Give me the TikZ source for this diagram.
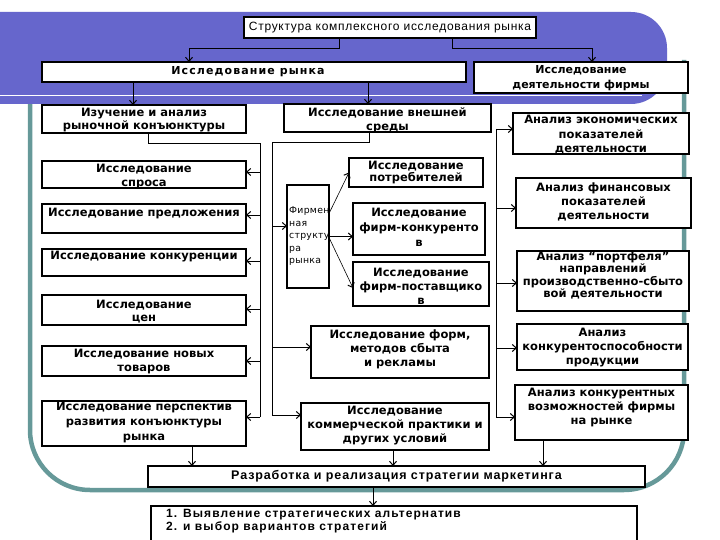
\documentclass[tikz,border=0pt]{standalone}
\usepackage{fontspec}
\usetikzlibrary{arrows.meta}
\newfontfamily\fdv{DejaVu Sans}
\newfontfamily\fdvwide{DejaVu Sans}[LetterSpace=10]
\newfontfamily\fdvsmall{DejaVu Sans}[LetterSpace=3]
\newfontfamily\flibtop{Liberation Sans}[LetterSpace=6]
\newfontfamily\flibraz{Liberation Sans}[LetterSpace=7]
\newfontfamily\flibalt{Liberation Sans}[LetterSpace=9]
\definecolor{hdrpurple}{RGB}{102,102,204}
\definecolor{frameteal}{RGB}{102,153,153}
\newcommand\mkbox[5]{\node[bx, minimum width={(#4-#2)*1pt}, minimum height={(#5-#3)*1pt}] (#1) at ({(#2+#4)/2},{(#3+#5)/2}) {};}
\tikzset{
  bx/.style={draw, line width=1.1pt, fill=white, inner sep=0pt, outer sep=0pt, rectangle},
  tb/.style={font={\fdv\bfseries\fontsize{11.5}{14}\selectfont}, align=center, inner sep=0pt},
  tbt/.style={font={\fdv\bfseries\fontsize{11.5}{11}\selectfont}, align=center, inner sep=0pt},
  tn/.style={font={\flibtop\fontsize{12}{14}\selectfont}, align=center, inner sep=0pt},
  ln/.style={line width=0.9pt},
  ar/.style={line width=0.9pt, -{Straight Barb[length=4pt,width=7pt,line width=1pt]}},
  fr/.style={line width=0.6pt, -{Straight Barb[length=4pt,width=7pt,line width=1pt]}},
}
\begin{document}
\begin{tikzpicture}[x=1pt,y=-1pt]
\useasboundingbox (0,0) rectangle (720,540);
\fill[white] (0,0) rectangle (720,540);
% teal frame
\draw[frameteal, line width=4.5pt, rounded corners=60pt] (30,60) -- (30,490) -- (684,490) -- (684,60);
% purple header
\fill[hdrpurple, rounded corners=36pt] (-60,12) rectangle (667,104);
\draw[white, line width=1.2pt] (0,95.5) -- (642,95.5);

% boxes
\mkbox{str}{244}{17}{536}{38}
\mkbox{ryn}{42}{62}{466}{82}
\mkbox{dej}{474}{62}{688}{93}
\mkbox{izu}{42}{105}{246}{133}
\mkbox{vne}{284}{104}{491}{132}
\mkbox{spr}{42}{161}{246}{188}
\mkbox{pre}{42}{204}{246}{233}
\mkbox{kon}{42}{249}{246}{276}
\mkbox{cen}{42}{295}{246}{325}
\mkbox{nov}{42}{346}{246}{376}
\mkbox{per}{42}{401}{246}{446}
\mkbox{firm}{287}{185}{329}{288}
\mkbox{pot}{349}{158}{483}{187}
\mkbox{fk}{353}{203}{485}{255}
\mkbox{fp}{353}{262}{489}{306}
\mkbox{frm}{311}{326}{489}{378}
\mkbox{kom}{301}{403}{489}{450}
\mkbox{ek}{513}{113}{689}{154}
\mkbox{fin}{516}{178}{691}{228}
\mkbox{port}{517}{251}{689}{311}
\mkbox{ksp}{517}{324}{688}{370}
\mkbox{voz}{515}{385}{688}{440}
\mkbox{raz}{148}{466}{645}{487}
\mkbox{alt}{151}{506}{637}{548}

% texts
\node[tn] (t-str) at (390,27.5) {Структура комплексного исследования рынка};
\node[tb, font={\fdvwide\bfseries\fontsize{11}{14}\selectfont}] (t-ryn) at (248,72) {Исследование рынка};
\node[tb, font={\fdv\bfseries\fontsize{11}{15}\selectfont}] (t-dej) at (581,78.5) {Исследование\\деятельности фирмы};
\node[tb, font={\fdv\bfseries\fontsize{11.5}{13}\selectfont}] (t-izu) at (144,120.5) {Изучение и анализ\\рыночной конъюнктуры};
\node[tb] (t-vne) at (387.5,120) {Исследование внешней\\среды};
\node[tb] (t-spr) at (144,177) {Исследование\\спроса};
\node[tb] (t-pre) at (144,214) {Исследование предложения};
\node[tb] (t-kon) at (144,257) {Исследование конкуренции};
\node[tb, font={\fdv\bfseries\fontsize{11.5}{13}\selectfont}] (t-cen) at (144,311.5) {Исследование\\цен};
\node[tb] (t-nov) at (144,362) {Исследование новых\\товаров};
\node[tb, font={\fdv\bfseries\fontsize{11.5}{15}\selectfont}] (t-per) at (144,423) {Исследование перспектив\\развития конъюнктуры\\рынка};
\node[inner sep=0pt, align=left, anchor=north west, font={\fdvsmall\fontsize{9.3}{12.5}\selectfont}] (t-firm) at (289,207) {Фирмен\\ная\\структу\\ра\\рынка};
\node[tbt, font={\fdv\bfseries\fontsize{11.5}{10}\selectfont}] (t-pot) at (416,172.5) {Исследование\\потребителей};
\node[tb, font={\fdv\bfseries\fontsize{11.5}{15}\selectfont}] (t-fk) at (419,227) {Исследование\\фирм-конкуренто\\в};
\node[tb] (t-fp) at (421,286) {Исследование\\фирм-поставщико\\в};
\node[tb] (t-frm) at (400,349) {Исследование форм,\\методов сбыта\\и рекламы};
\node[tb] (t-kom) at (395,426) {Исследование\\коммерческой практики и\\других условий};
\node[tb, font={\fdv\bfseries\fontsize{11.5}{14.5}\selectfont}] (t-ek) at (601,135) {Анализ экономических\\показателей\\деятельности};
\node[tb] (t-fin) at (603.5,202) {Анализ финансовых\\показателей\\деятельности};
\node[tbt] (t-port) at (603,275.5) {Анализ “портфеля”\\направлений\\производственно-сбыто\\вой деятельности};
\node[tb] (t-ksp) at (602.5,347.5) {Анализ\\конкурентоспособности\\продукции};
\node[tb] (t-voz) at (601.5,408) {Анализ конкурентных\\возможностей фирмы\\на рынке};
\node[tn, font={\flibraz\bfseries\fontsize{12.5}{14}\selectfont}] (t-raz) at (396.5,476.5) {Разработка и реализация стратегии маркетинга};
\node[inner sep=0pt, align=left, anchor=north west, font={\flibalt\bfseries\fontsize{12}{13}\selectfont}] (t-alt) at (166,509) {1. Выявление стратегических альтернатив\\2. и выбор вариантов стратегий};

% top connectors
\draw[ar] ([xshift=-51pt]str.south) |- (189,48) -- (189,0 |- ryn.north);
\draw[ar] ([xshift=62pt]str.south) |- (592,48) -- (592,0 |- dej.north);
\draw[ar] (133,0 |- ryn.south) -- (133,0 |- izu.north);
\draw[ar] (368,0 |- ryn.south) -- (368,0 |- vne.north);

% left bus
\coordinate (lb1) at (260,143);
\coordinate (lb2) at (260,417);
\draw[ln] ([xshift=4pt]izu.south) |- (lb1) -- (lb2);
\draw[ar] (lb1 |- 0,172) -- (spr.east |- 0,172);
\draw[ar] (lb1 |- 0,215) -- (pre.east |- 0,215);
\draw[ar] (lb1 |- 0,261) -- (kon.east |- 0,261);
\draw[ar] (lb1 |- 0,309) -- (cen.east |- 0,309);
\draw[ar] (lb1 |- 0,361) -- (nov.east |- 0,361);
\draw[ar] (lb2) -- (per.east |- lb2);

% middle bus
\coordinate (mb1) at (272,142);
\coordinate (mb2) at (272,415);
\draw[ln] ([xshift=-18.5pt]vne.south) |- (mb1) -- (mb2);
\draw[ar] (mb1 |- 0,226) -- (firm.west |- 0,226);
\draw[ar] (mb1 |- 0,347) -- (frm.west |- 0,347);
\draw[ar] (mb2) -- (kom.west |- mb2);

% firm structure fan
\draw[fr] ([yshift=23pt]firm.east) -- (pot.west);
\draw[fr] (firm.east) -- (fk.west |- firm.east);
\draw[fr] ([yshift=-1pt]firm.east) -- ([yshift=-4pt]fp.west);

% right bus
\coordinate (rb1) at (496,129);
\coordinate (rb2) at (496,417);
\draw[ln] (rb1) -- (rb2);
\draw[ar] (rb1) -- (ek.west |- rb1);
\draw[ar] (rb1 |- 0,208) -- (fin.west |- 0,208);
\draw[ar] (rb1 |- 0,283) -- (port.west |- 0,283);
\draw[ar] (rb1 |- 0,348) -- (ksp.west |- 0,348);
\draw[ar] (rb2) -- (voz.west |- rb2);

% into strategy box
\draw[ar] (192,0 |- per.south) -- (192,0 |- raz.north);
\draw[ar] (393,0 |- kom.south) -- (393,0 |- raz.north);
\draw[ar] (543,0 |- voz.south) -- (543,0 |- raz.north);
\draw[ar] (373,0 |- raz.south) -- (373,0 |- alt.north);
\end{tikzpicture}
\end{document}
